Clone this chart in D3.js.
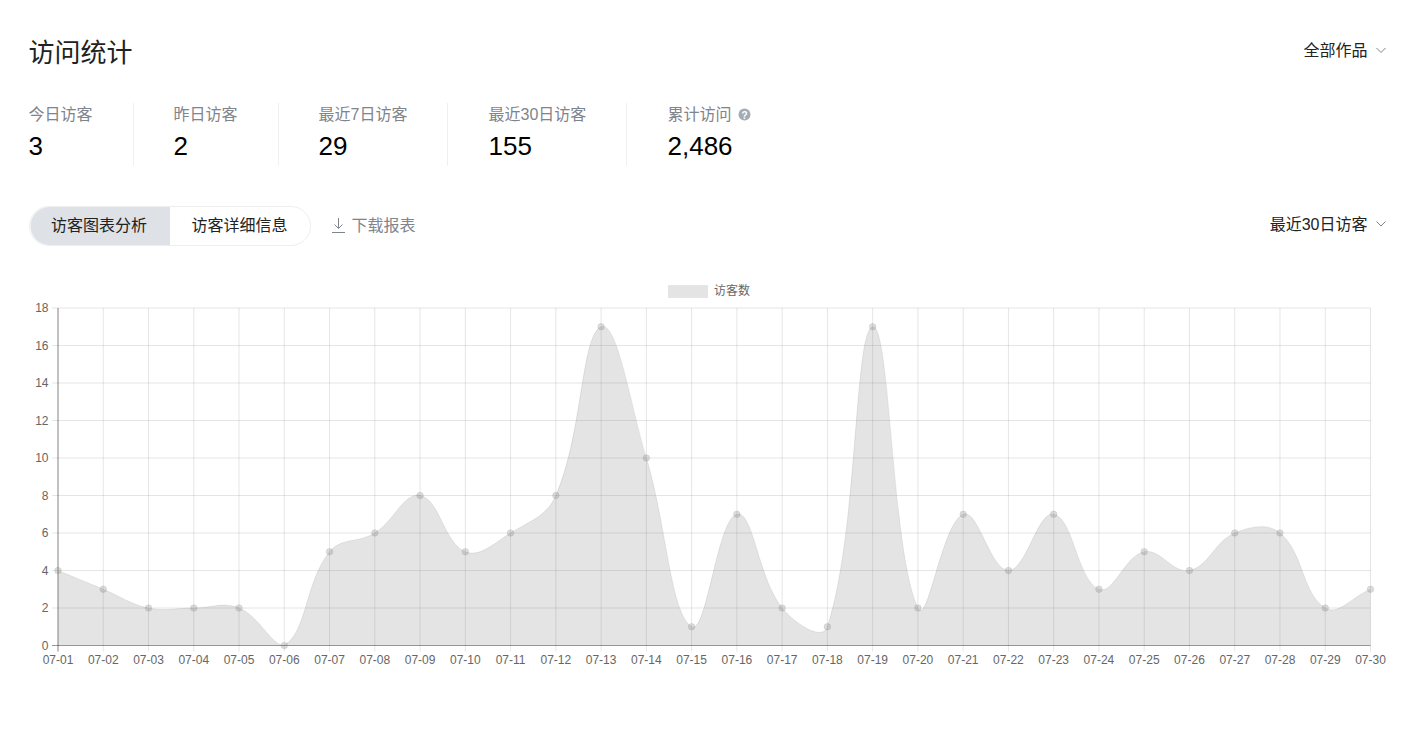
<!DOCTYPE html>
<html><head><meta charset="utf-8">
<script src="https://cdnjs.cloudflare.com/ajax/libs/d3/7.8.5/d3.min.js"></script>
<style>
html,body{margin:0;padding:0;background:#fff;overflow:hidden}
svg{display:block}
text{font-family:"Liberation Sans","Noto Sans CJK SC",sans-serif}
</style></head><body>
<svg id="c" width="1414" height="746"></svg>
<script>
const pageTitle = "访问统计";
const statLabels = ["今日访客","昨日访客","最近7日访客","最近30日访客","累计访问"];
const statValues = ["3","2","29","155","2,486"];
const categories = ["07-01","07-02","07-03","07-04","07-05","07-06","07-07","07-08","07-09","07-10","07-11","07-12","07-13","07-14","07-15","07-16","07-17","07-18","07-19","07-20","07-21","07-22","07-23","07-24","07-25","07-26","07-27","07-28","07-29","07-30"];
const visitors = [4,3,2,2,2,0,5,6,8,5,6,8,17,10,1,7,2,1,17,2,7,4,7,3,5,4,6,6,2,3];
const yTicks = [0,2,4,6,8,10,12,14,16,18];
const seriesName = "访客数";

const svg = d3.select("#c");
const L=58, R=1370.5, T=308, B=645.5;
const x = d3.scalePoint().domain(categories).range([L,R]);
const y = d3.scaleLinear().domain([0,18]).range([B,T]);

// Header
svg.append("text").attr("x",28.5).attr("y",62).attr("font-size",26).attr("fill","#222").text(pageTitle);
const rightText=(t,yy)=>svg.append("text").attr("x",1367.5).attr("y",yy).attr("text-anchor","end").attr("font-size",16).attr("fill","#222").text(t);
const chev=(yy)=>svg.append("path").attr("d",`M1376.5 ${yy}l4.5 4.5l4.5 -4.5`).attr("fill","none").attr("stroke","#7d838e").attr("stroke-width",1);
rightText("全部作品",56); chev(48);
rightText("最近30日访客",230); chev(221.5);

// Stats
const statX=[28.5,173.5,318.5,488.5,667.5], divX=[133.5,278.5,447.5,626.5];
statLabels.forEach((s,i)=>{
  svg.append("text").attr("x",statX[i]).attr("y",120).attr("font-size",16).attr("fill","#80848c").text(s);
  svg.append("text").attr("x",statX[i]).attr("y",155).attr("font-size",26).attr("fill","#000").text(statValues[i]);
});
divX.forEach(d=>svg.append("line").attr("x1",d).attr("x2",d).attr("y1",103).attr("y2",166).attr("stroke","#eef0f2"));
svg.append("circle").attr("cx",744.5).attr("cy",114.5).attr("r",6).attr("fill","#a3abb5");
svg.append("text").attr("x",744.5).attr("y",118.5).attr("text-anchor","middle").attr("font-size",10).attr("font-weight","bold").attr("fill","#fff").text("?");

// Tabs
svg.append("rect").attr("x",29.5).attr("y",206.5).attr("width",281).attr("height",39).attr("rx",19.5).attr("fill","#fff").attr("stroke","#eceef1");
svg.append("path").attr("d","M170 207H49.5a19 19 0 0 0 0 38H170Z").attr("fill","#dee1e6");
svg.append("text").attr("x",99).attr("y",231).attr("text-anchor","middle").attr("font-size",16).attr("fill","#222").text("访客图表分析");
svg.append("text").attr("x",239.5).attr("y",231).attr("text-anchor","middle").attr("font-size",16).attr("fill","#222").text("访客详细信息");
svg.append("path").attr("d","M338.5 218v10M334.5 224.5l4 4l4 -4M332 232.5h13").attr("fill","none").attr("stroke","#80848c").attr("stroke-width",1);
svg.append("text").attr("x",351.5).attr("y",231).attr("font-size",16).attr("fill","#80848c").text("下载报表");

// Legend
svg.append("rect").attr("x",668.5).attr("y",285.5).attr("width",39).attr("height",12).attr("fill","rgba(120,120,120,0.2)").attr("stroke","rgba(120,120,120,0.1)");
svg.append("text").attr("x",714).attr("y",295).attr("font-size",12).attr("fill","#666").text(seriesName);

// Grid
const grid="rgba(0,0,0,0.1)";
categories.forEach(c=>{
  svg.append("line").attr("x1",x(c)).attr("x2",x(c)).attr("y1",T).attr("y2",B+6).attr("stroke",grid);
});
yTicks.forEach(v=>{
  svg.append("line").attr("x1",L-6).attr("x2",R).attr("y1",y(v)).attr("y2",y(v)).attr("stroke",v===0?"rgba(0,0,0,0.4)":grid);
});
svg.append("line").attr("x1",L).attr("x2",L).attr("y1",T).attr("y2",B+6).attr("stroke","rgba(0,0,0,0.4)");

// Axes labels through axis generators
const ay=svg.append("g").attr("transform",`translate(${L-9.5},0)`).call(d3.axisLeft(y).tickValues(yTicks).tickSize(0).tickPadding(0));
const ax=svg.append("g").attr("transform",`translate(-0.5,${B+8})`).call(d3.axisBottom(x).tickSize(0).tickPadding(0));
[ax,ay].forEach(a=>{a.select(".domain").remove();a.selectAll("text").attr("font-size",12).attr("fill","#666").style("font-family",'"Liberation Sans",sans-serif');});
ax.selectAll("text").attr("dy","0.85em");

// Spline with Chart.js style tension (0.4), capped to the plot area
function splineCurve(ctx){
  let pts=[], first=true, isArea=false;
  return {
    areaStart(){isArea=true;first=true;},
    areaEnd(){isArea=false;ctx.closePath();},
    lineStart(){pts=[];},
    point(a,b){pts.push([a,b]);},
    lineEnd(){
      const n=pts.length, t=0.4, cpN=[], cpP=[];
      pts.forEach((p,i)=>{
        const a=pts[Math.max(i-1,0)], c=pts[Math.min(i+1,n-1)];
        const d1=Math.hypot(p[0]-a[0],p[1]-a[1]), d2=Math.hypot(c[0]-p[0],c[1]-p[1]);
        const s=d1+d2||1, fa=t*d1/s, fb=t*d2/s;
        const cl=(q)=>[Math.min(Math.max(q[0],L),R),Math.min(Math.max(q[1],T),B)];
        cpP[i]=cl([p[0]-fa*(c[0]-a[0]),p[1]-fa*(c[1]-a[1])]);
        cpN[i]=cl([p[0]+fb*(c[0]-a[0]),p[1]+fb*(c[1]-a[1])]);
      });
      if(first){ctx.moveTo(pts[0][0],pts[0][1]);first=false;} else ctx.lineTo(pts[0][0],pts[0][1]);
      for(let i=1;i<n;i++){
        if(pts[i][1]===pts[i-1][1]&&isArea&&pts[i][1]===B) ctx.lineTo(pts[i][0],pts[i][1]);
        else ctx.bezierCurveTo(cpN[i-1][0],cpN[i-1][1],cpP[i][0],cpP[i][1],pts[i][0],pts[i][1]);
      }
    }
  };
}
const area=d3.area().x((d,i)=>x(categories[i])).y0(B).y1(d=>y(d)).curve(splineCurve);
const line=d3.line().x((d,i)=>x(categories[i])).y(d=>y(d)).curve(splineCurve);
svg.append("path").attr("d",area(visitors)).attr("fill","rgba(120,120,120,0.2)");
svg.append("path").attr("d",line(visitors)).attr("fill","none").attr("stroke","rgba(120,120,120,0.15)").attr("stroke-width",1);
svg.selectAll("circle.pt").data(visitors).join("circle").attr("class","pt")
  .attr("cx",(d,i)=>x(categories[i])).attr("cy",d=>y(d)).attr("r",3.3)
  .attr("fill","rgba(120,120,120,0.25)").attr("stroke","rgba(120,120,120,0.15)");
</script>
</body></html>
